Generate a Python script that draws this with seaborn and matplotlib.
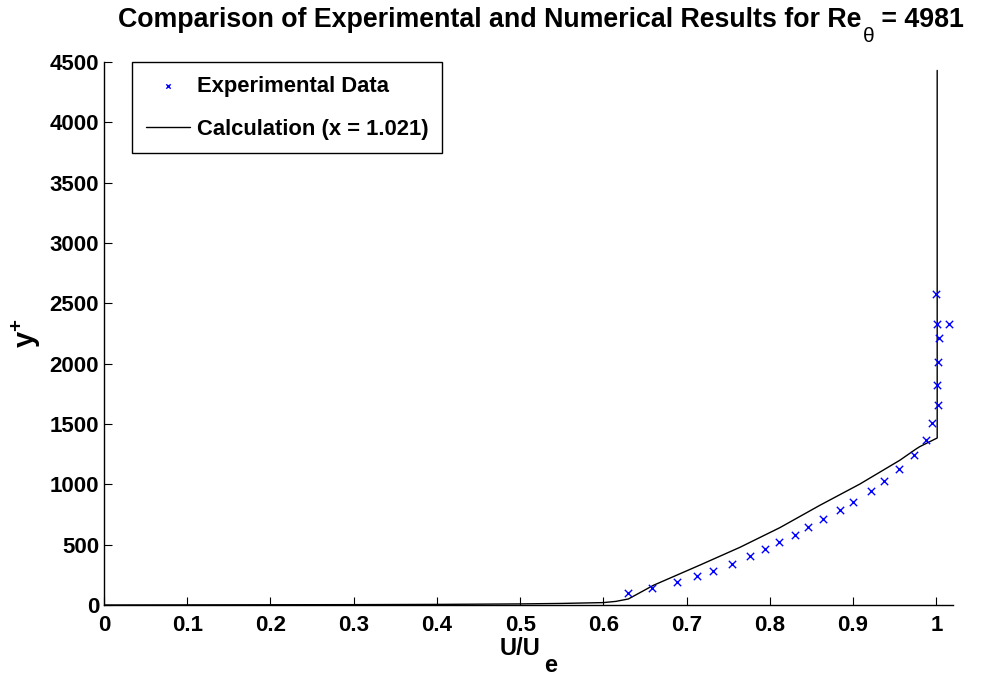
import numpy as np
import pandas as pd
import matplotlib
matplotlib.use("Agg")
import matplotlib.pyplot as plt
import seaborn as sns

# experimental profile
exp_u = [0.629, 0.658, 0.688, 0.713, 0.732, 0.754, 0.776, 0.794, 0.811, 0.830,
         0.846, 0.864, 0.884, 0.900, 0.922, 0.937, 0.955, 0.973, 0.988, 0.995,
         1.002, 1.001, 1.002, 1.003, 1.001, 1.015, 1.000]
exp_y = [102, 138, 188, 238, 284, 342, 403, 464, 519, 580,
         644, 715, 790, 856, 942, 1030, 1124, 1243, 1364, 1508,
         1654, 1820, 2013, 2212, 2328, 2328, 2574]

# calculated profile
calc_u = [0.0, 0.1, 0.2, 0.3, 0.4, 0.5, 0.55, 0.6, 0.615, 0.63, 0.66, 0.716,
          0.764, 0.812, 0.860, 0.908, 0.956, 0.975, 0.98, 1.001, 1.001]
calc_y = [0, 1, 2, 3, 5, 9, 13, 20, 30, 50, 163, 331,
          478, 641, 826, 1002, 1199, 1290, 1312, 1384, 4430]

x_ticks = [0, 0.1, 0.2, 0.3, 0.4, 0.5, 0.6, 0.7, 0.8, 0.9, 1]
y_ticks = [0, 500, 1000, 1500, 2000, 2500, 3000, 3500, 4000, 4500]

sns.set_style("ticks")
plt.rcParams['font.family'] = ['Liberation Sans', 'DejaVu Sans']
plt.rcParams['font.weight'] = 'bold'
plt.rcParams['text.color'] = 'black'
plt.rcParams['axes.labelcolor'] = 'black'
plt.rcParams['xtick.color'] = 'black'
plt.rcParams['ytick.color'] = 'black'
plt.rcParams['mathtext.fontset'] = 'custom'
plt.rcParams['mathtext.rm'] = 'Liberation Sans'
plt.rcParams['mathtext.it'] = 'Liberation Sans'
plt.rcParams['mathtext.bf'] = 'Liberation Sans:bold'

exp_df = pd.DataFrame({"u": exp_u, "y": exp_y})
calc_df = pd.DataFrame({"u": calc_u, "y": calc_y})

fig = plt.figure(figsize=(9.84, 6.75), dpi=100)
ax = fig.add_axes([0.1057, 0.1037, 0.8628, 0.8045])

sns.scatterplot(data=exp_df, x="u", y="y", ax=ax, marker="x", color="#0000ff",
                s=28, linewidth=1.0, label="Experimental Data", zorder=3)
sns.lineplot(data=calc_df, x="u", y="y", ax=ax, sort=False, estimator=None,
             color="black", linewidth=1.0, label="Calculation (x = 1.021)")

ax.set_xlim(0, 1.02)
ax.set_ylim(0, 4500)
ax.set_xticks(x_ticks)
ax.set_xticklabels([f"{t:g}" for t in x_ticks])
ax.set_yticks(y_ticks)
ax.tick_params(direction="in", length=6, width=0.8, labelsize=16)
ax.tick_params(axis="x", pad=7)
ax.tick_params(axis="y", pad=3.5)
for lab in ax.get_xticklabels() + ax.get_yticklabels():
    lab.set_fontweight("bold")
for s in ["top", "right"]:
    ax.spines[s].set_visible(False)
for s in ["left", "bottom"]:
    ax.spines[s].set_color("black")
    ax.spines[s].set_linewidth(1.0)

# x label: U/U with a full size, lowered "e"
ax.set_xlabel("U/U", fontsize=17, fontweight="bold")
ax.xaxis.set_label_coords(0.4906, -0.0921)
ax.xaxis.label.set_verticalalignment("baseline")
ax.annotate("e", xy=(1, 0), xycoords=ax.xaxis.label, xytext=(2.5, -12),
            textcoords="offset points", ha="left", va="bottom",
            fontsize=17, fontweight="bold")

ax.set_ylabel(r"y$^\mathbf{+}$", fontsize=21, fontweight="bold")
ax.yaxis.set_label_coords(-0.072, 0.5)

# title with a lowered theta, as in the original
main = fig.text(118 / 984, 1 - 27 / 675,
                "Comparison of Experimental and Numerical Results for Re",
                ha="left", va="baseline", fontsize=19.3, fontweight="bold")
sub = ax.annotate("θ", xy=(1, 0), xycoords=main, xytext=(1, -9),
                  textcoords="offset points", ha="left", va="bottom",
                  fontsize=15, fontweight="normal")
ax.annotate(" = 4981", xy=(1, 0), xycoords=sub, xytext=(0, 9),
            textcoords="offset points", ha="left", va="bottom",
            fontsize=19.3, fontweight="bold")

leg = ax.legend(loc="upper left", bbox_to_anchor=(0.033, 1.0), borderaxespad=0,
                fancybox=False, framealpha=1, edgecolor="black",
                prop={"weight": "bold", "size": 15.8}, handlelength=2.0,
                handletextpad=0.33, borderpad=0.62, labelspacing=1.0,
                markerscale=0.6)
leg.get_frame().set_linewidth(1.0)

fig.savefig("out.png", dpi=100)
